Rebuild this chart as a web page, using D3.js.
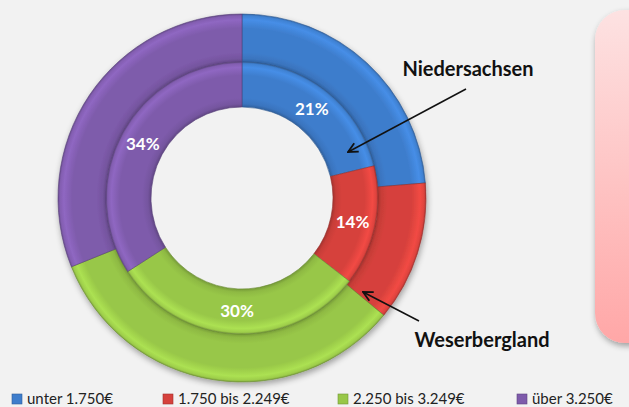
<!DOCTYPE html>
<html>
<head>
<meta charset="utf-8">
<script src="https://cdn.jsdelivr.net/npm/d3@7"></script>
<style>
  body { margin: 0; background: #f2f2f2; }
  svg { display: block; }
</style>
</head>
<body>
<svg width="629" height="407"></svg>
<script>
// data
var categories = ["unter 1.750€", "1.750 bis 2.249€", "2.250 bis 3.249€", "über 3.250€"];
var niedersachsen = [21.2, 14.3, 30.4, 34.1];   // inner ring
var weserbergland = [23.7, 12.3, 32.9, 31.1];   // outer ring
var colors = ["#3e7dcc", "#d6413c", "#98c748", "#7e5bab"];

var svg = d3.select("svg"),
    cx = 242, cy = 198;

var defs = svg.append("defs");

// soft shadow
var f = defs.append("filter").attr("id", "shadow").attr("x", "-20%").attr("y", "-20%").attr("width", "140%").attr("height", "140%");
f.append("feGaussianBlur").attr("in", "SourceAlpha").attr("stdDeviation", 3);
f.append("feOffset").attr("dx", 1).attr("dy", 3).attr("result", "b");
f.append("feComponentTransfer").append("feFuncA").attr("type", "linear").attr("slope", 0.35);
var m = f.append("feMerge");
m.append("feMergeNode");
m.append("feMergeNode").attr("in", "SourceGraphic");

// pink box on the right (cut off)
var pg = defs.append("linearGradient").attr("id", "pink").attr("x1", 0).attr("y1", 0).attr("x2", 0).attr("y2", 1);
pg.append("stop").attr("offset", "0%").attr("stop-color", "#fde2e2");
pg.append("stop").attr("offset", "100%").attr("stop-color", "#ffa7a7");

svg.append("rect")
  .attr("x", 595).attr("y", 10)
  .attr("width", 80).attr("height", 333)
  .attr("rx", 30)
  .attr("fill", "url(#pink)")
  .attr("filter", "url(#shadow)");

// bevel gradient for one ring and one colour (centre is 0,0 inside the group)
function bevel(id, base, r0, r1) {
  var c = d3.color(base);
  var g = defs.append("radialGradient").attr("id", id)
    .attr("gradientUnits", "userSpaceOnUse")
    .attr("cx", 0).attr("cy", 0).attr("r", r1);
  var k = r0 / r1;
  var stops = [
    [k, c.darker(0.7)],
    [k + (1 - k) * 0.07, c.darker(0.2)],
    [k + (1 - k) * 0.2, c],
    [k + (1 - k) * 0.7, c],
    [k + (1 - k) * 0.88, c.brighter(0.35)],
    [k + (1 - k) * 0.96, c.brighter(0.1)],
    [1, c.darker(0.5)]
  ];
  stops.forEach(function(s) {
    g.append("stop").attr("offset", s[0]).attr("stop-color", s[1].formatHex());
  });
}

var rings = [
  { name: "outer", values: weserbergland, r0: 136, r1: 184 },
  { name: "inner", values: niedersachsen, r0: 91, r1: 136 }
];

var pie = d3.pie().sort(null).value(function(d) { return d; });

var g = svg.append("g").attr("transform", "translate(" + cx + "," + cy + ")");

rings.forEach(function(ring) {
  colors.forEach(function(c, i) { bevel(ring.name + i, c, ring.r0, ring.r1); });

  var arc = d3.arc().innerRadius(ring.r0).outerRadius(ring.r1);

  g.append("g")
    .attr("filter", ring.name == "outer" ? "url(#shadow)" : null)
    .selectAll("path")
    .data(pie(ring.values))
    .enter().append("path")
    .attr("d", arc)
    .attr("fill", function(d, i) { return "url(#" + ring.name + i + ")"; })
    .attr("stroke", function(d, i) { return d3.color(colors[i]).darker(1).formatHex(); })
    .attr("stroke-width", 0.6);
});

// labels on the inner ring
var labelArc = d3.arc().innerRadius(113).outerRadius(113);
g.selectAll(".lbl")
  .data(pie(niedersachsen))
  .enter().append("text")
  .attr("class", "lbl")
  .attr("transform", function(d) { return "translate(" + labelArc.centroid(d) + ")"; })
  .attr("text-anchor", "middle")
  .attr("dy", "0.35em")
  .attr("font-family", "Lato, 'Open Sans', sans-serif")
  .attr("font-weight", "bold")
  .attr("font-size", "17px")
  .attr("fill", "white")
  .text(function(d) { return Math.round(d.value) + "%"; });

// arrows + annotations
var mk = defs.append("marker").attr("id", "arrow")
  .attr("viewBox", "0 0 10 10").attr("refX", 9).attr("refY", 5)
  .attr("markerWidth", 8).attr("markerHeight", 8)
  .attr("orient", "auto");
mk.append("path").attr("d", "M1,1 L9,5 L1,9").attr("fill", "none").attr("stroke", "#111").attr("stroke-width", 1.5);

svg.append("line")
  .attr("x1", 466).attr("y1", 89).attr("x2", 348).attr("y2", 152)
  .attr("stroke", "#111").attr("stroke-width", 1.5)
  .attr("marker-end", "url(#arrow)");
svg.append("line")
  .attr("x1", 419).attr("y1", 321).attr("x2", 363).attr("y2", 292)
  .attr("stroke", "#111").attr("stroke-width", 1.5)
  .attr("marker-end", "url(#arrow)");

svg.append("text")
  .attr("x", 468).attr("y", 76)
  .attr("text-anchor", "middle")
  .attr("font-family", "Lato, 'Open Sans', sans-serif")
  .attr("font-weight", "bold")
  .attr("font-size", "20px")
  .attr("fill", "#111")
  .text("Niedersachsen");

svg.append("text")
  .attr("x", 482).attr("y", 347)
  .attr("text-anchor", "middle")
  .attr("font-family", "Lato, 'Open Sans', sans-serif")
  .attr("font-weight", "bold")
  .attr("font-size", "20px")
  .attr("fill", "#111")
  .text("Weserbergland");

// legend
var legendX = [12, 163, 338, 517];
var lg = svg.selectAll(".leg")
  .data(categories)
  .enter().append("g")
  .attr("class", "leg")
  .attr("transform", function(d, i) { return "translate(" + legendX[i] + ",394)"; });

lg.append("rect")
  .attr("width", 10).attr("height", 10)
  .attr("fill", function(d, i) { return colors[i]; })
  .attr("stroke", function(d, i) { return d3.color(colors[i]).darker(0.8).formatHex(); })
  .attr("stroke-width", 0.6);

lg.append("text")
  .attr("x", 15).attr("y", 10)
  .attr("font-family", "Lato, 'Open Sans', sans-serif")
  .attr("font-size", "15px")
  .attr("fill", "#222")
  .text(function(d) { return d; });
</script>
</body>
</html>
